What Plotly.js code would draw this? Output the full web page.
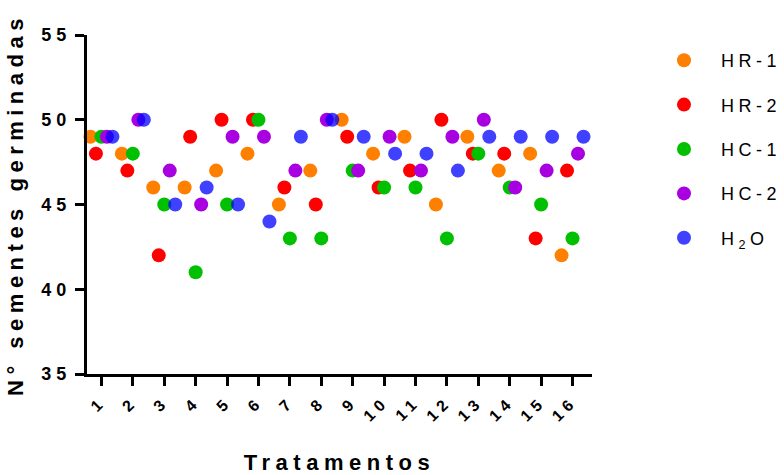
<!DOCTYPE html>
<html>
<head>
<meta charset="utf-8">
<script src="https://cdn.plot.ly/plotly-3.0.1.min.js"></script>
<style>
  html, body { margin: 0; padding: 0; background: #fff; }
  #chart { width: 784px; height: 475px; }
  .xtick text, .ytick text { letter-spacing: 5px; }
  text.xtitle, text.ytitle { letter-spacing: 5.5px; }
  text.legendtext { letter-spacing: 4.5px; transform: translateX(17px); }
  g.legend g.scrollbox { clip-path: none !important; }
</style>
</head>
<body>
<div id="chart"></div>
<script>
// Categories (treatments)
const tratamentos = [1,2,3,4,5,6,7,8,9,10,11,12,13,14,15,16];
const tickLabels = ["1","2","3","4","5","6","7","8","9","10","11","12","13","14","15","16"];

// Series values (N° sementes germinadas)
const seriesNames = ["HR-1", "HR-2", "HC-1", "HC-2", "H<sub>2</sub>O"];
const HR1 = [49,48,46,46,47,48,45,47,50,48,49,45,49,47,48,42];
const HR2 = [48,47,42,49,50,50,46,45,49,46,47,50,48,48,43,47];
const HC1 = [49,48,45,41,45,50,43,43,47,46,46,43,48,46,45,43];
const HC2 = [49,50,47,45,49,49,47,50,47,49,47,49,50,46,47,48];
const H2O = [49,50,45,46,45,44,49,50,49,48,48,47,49,49,49,49];

const seriesValues = [HR1, HR2, HC1, HC2, H2O];
const colors = ["#FF8000", "#FF0000", "#00C000", "#A800E0", "rgba(0,0,255,0.75)"];

const traces = seriesValues.map((vals, i) => ({
  type: "scatter",
  mode: "markers",
  name: seriesNames[i],
  legendgroup: "g" + i,
  x: tratamentos,
  y: vals,
  marker: { color: colors[i], size: 14, line: { width: 0 } },
  cliponaxis: false,
  hoverinfo: "x+y+name"
}));

const layout = {
  width: 784,
  height: 475,
  margin: { l: 87, r: 192, t: 35, b: 101 },
  paper_bgcolor: "#fff",
  plot_bgcolor: "#fff",
  font: { family: "Liberation Sans, Arial, sans-serif", color: "#000" },
  scattermode: "group",
  scattergap: 0.125,
  showlegend: true,
  legend: {
    xref: "container", yref: "container",
    x: 664 / 784, y: 1 - 42 / 475,
    xanchor: "left", yanchor: "top",
    traceorder: "grouped",
    tracegroupgap: 18,
    itemsizing: "trace",
    font: { size: 18, family: "Liberation Sans, Arial, sans-serif", color: "#000" },
    bgcolor: "rgba(0,0,0,0)",
    borderwidth: 0
  },
  xaxis: {
    range: [0.54, 16.62],
    tickmode: "array",
    tickvals: tratamentos,
    ticktext: tickLabels,
    tickangle: -45,
    ticks: "outside",
    ticklen: 9,
    tickwidth: 3,
    tickcolor: "#000",
    showline: true,
    linewidth: 3,
    linecolor: "#000",
    showgrid: false,
    zeroline: false,
    tickfont: { size: 16, family: "Liberation Sans, Arial, sans-serif", weight: "bold", color: "#000" },
    title: {
      text: "Tratamentos",
      font: { size: 22, family: "Liberation Sans, Arial, sans-serif", weight: "bold", color: "#000" },
      standoff: 36
    },
    fixedrange: true
  },
  yaxis: {
    range: [35, 55],
    tick0: 35,
    dtick: 5,
    ticks: "outside",
    ticklen: 9,
    tickwidth: 3,
    tickcolor: "#000",
    showline: true,
    linewidth: 3,
    linecolor: "#000",
    showgrid: false,
    zeroline: false,
    tickfont: { size: 18, family: "Liberation Sans, Arial, sans-serif", weight: "bold", color: "#000" },
    title: {
      text: "N° sementes germinadas",
      font: { size: 22, family: "Liberation Sans, Arial, sans-serif", weight: "bold", color: "#000" },
      standoff: 12
    },
    fixedrange: true
  }
};

Plotly.newPlot("chart", traces, layout, { displayModeBar: false, staticPlot: true });
</script>
</body>
</html>
